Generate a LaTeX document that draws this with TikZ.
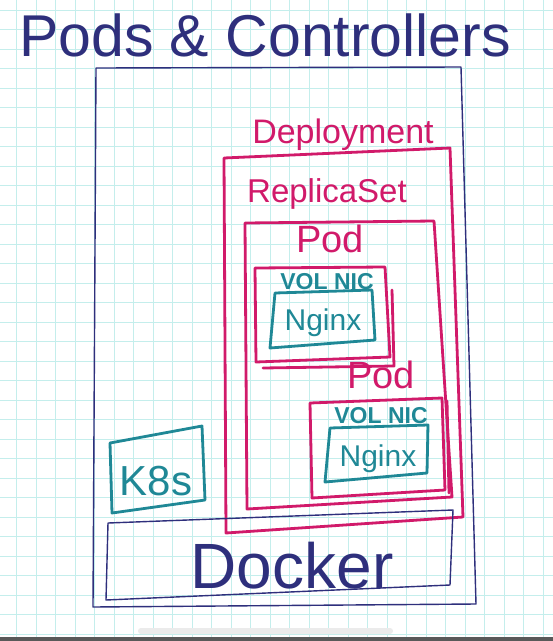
\documentclass[tikz,border=0pt]{standalone}
\usepackage{fontspec}
\setmainfont{Liberation Sans}
\definecolor{navy}{HTML}{2E2F7C}
\definecolor{mag}{HTML}{D11A6A}
\definecolor{tealc}{HTML}{1F8896}
\definecolor{gridc}{HTML}{C4EEEC}
\begin{document}
\begin{tikzpicture}[x=1pt,y=-1pt,
  navyline/.style={draw=navy,line width=1.4pt,line join=round},
  magline/.style={draw=mag,line width=2.8pt,line join=round,line cap=round},
  tealline/.style={draw=tealc,line width=2.8pt,line join=round,line cap=round},
  lbl/.style={anchor=base,inner sep=0pt},
  navytext/.style={lbl,text=navy},
  magtext/.style={lbl,text=mag},
  tealtext/.style={lbl,text=tealc},
 ]
\useasboundingbox (0,0) rectangle (553,641);
\fill[white] (0,0) rectangle (553,641);
% grid
\foreach \i in {0,...,28} {
  \draw[gridc,line width=0.8pt] ({16.5+19.5*\i},0) -- ({16.5+19.5*\i},641);
}
\foreach \j in {0,...,32} {
  \draw[gridc,line width=0.8pt] (0,{10+19.5*\j}) -- (553,{10+19.5*\j});
}
% title
\node[navytext,font=\fontsize{59}{62}\selectfont] (title) at (265,56) {Pods \& Controllers};
% outer box
\draw[navyline] (96,68) -- (461,67) -- (476,604) -- (93,607) -- cycle;
% deployment
\node[magtext,font=\fontsize{34}{38}\selectfont] (deplbl) at (343,143) {Deployment};
\draw[magline] (224,158) -- (450,148) -- (463,517) -- (226,533) -- cycle;
% replicaset
\node[magtext,font=\fontsize{33}{36}\selectfont] (rslbl) at (327,202) {ReplicaSet};
\draw[magline] (245,223) -- (434,221) -- (452,497) -- (247,509) -- cycle;
% pod 1
\node[magtext,font=\fontsize{38}{40}\selectfont] (pod1lbl) at (330,252) {Pod};
\draw[magline] (255,268) -- (385,267) -- (390,357) -- (256,362) -- cycle;
\draw[magline] (392,290) -- (394,366) -- (263,368);
\node[tealtext,font=\bfseries\fontsize{23}{26}\selectfont] (vn1) at (327,289) {VOL NIC};
\draw[tealline] (275,293) -- (372,290) -- (375,340) -- (270,348) -- cycle;
\node[tealtext,font=\fontsize{30}{32}\selectfont] (ng1) at (323,330) {Nginx};
% pod 2
\node[magtext,font=\fontsize{38}{40}\selectfont] (pod2lbl) at (381,388) {Pod};
\draw[magline] (310,403) -- (442,398) -- (445,490) -- (312,498) -- cycle;
\draw[magline] (447,401) -- (449,493);
\node[tealtext,font=\bfseries\fontsize{23}{26}\selectfont] (vn2) at (381,423) {VOL NIC};
\draw[tealline] (330,428) -- (428,425) -- (427,473) -- (325,482) -- cycle;
\node[tealtext,font=\fontsize{30}{32}\selectfont] (ng2) at (378,466) {Nginx};
% K8s
\draw[tealline] (110,443) -- (202,426) -- (205,500) -- (112,513) -- cycle;
\node[tealtext,font=\fontsize{42}{44}\selectfont] (k8s) at (156,495) {K8s};
% Docker
\draw[navyline] (108,523) -- (453,510) -- (450,585) -- (106,600) -- cycle;
\node[navytext,font=\fontsize{64}{66}\selectfont] (docker) at (292,588) {Docker};
% bottom bar
\fill[black!8,rounded corners=3pt] (138,628) rectangle (393,634);
\fill[black!65] (0,637) rectangle (553,641);
\end{tikzpicture}
\end{document}
